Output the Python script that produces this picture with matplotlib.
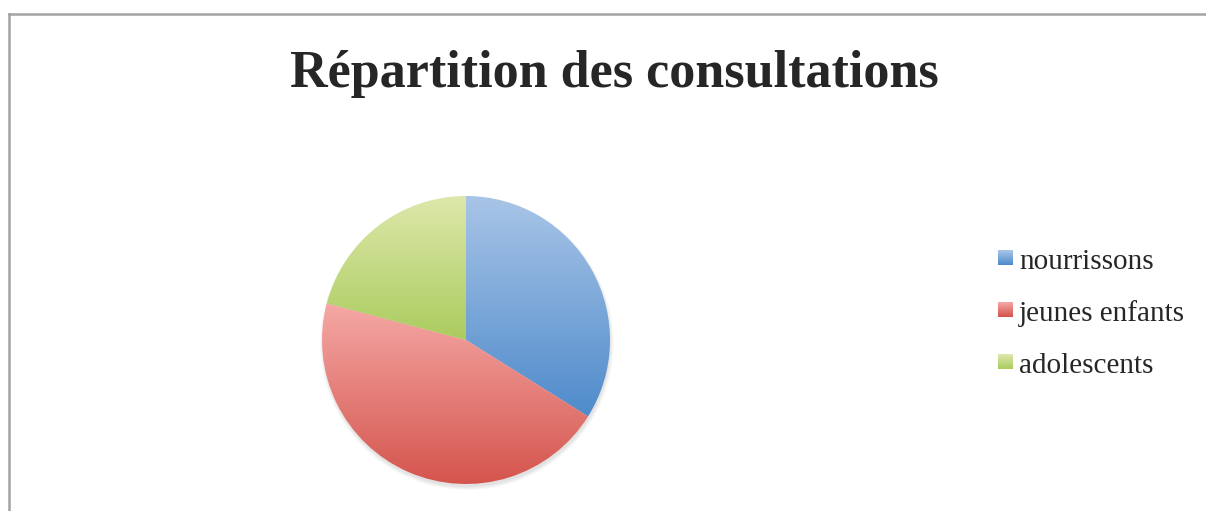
import numpy as np
import matplotlib
matplotlib.use("Agg")
import matplotlib.pyplot as plt
from matplotlib.colors import LinearSegmentedColormap
from matplotlib.patches import Circle
from matplotlib.lines import Line2D

title = "Répartition des consultations"
categories = ["nourrissons", "jeunes enfants", "adolescents"]
values = [33.9, 45.2, 20.9]
top_colors = ["#A9C5E7", "#F5A8A5", "#DDE8AB"]
bottom_colors = ["#4F8BCB", "#D4534C", "#ABCC5F"]

W, H = 1206, 511
fig = plt.figure(figsize=(W / 100, H / 100), dpi=100)
fig.patch.set_facecolor("white")

# frame (only top and left visible)
fig.add_artist(Line2D([9 / W, 9 / W], [0, 1 - 14 / H], color="#A3A3A6", lw=1.8,
                      transform=fig.transFigure))
fig.add_artist(Line2D([9 / W, 1], [1 - 14 / H, 1 - 14 / H], color="#A3A3A6", lw=1.8,
                      transform=fig.transFigure))

fig.text(614 / W, 1 - 74 / H, title, ha="center", va="center",
         fontsize=37.5, fontweight="bold", family="Liberation Serif", color="#262626")

cx, cy, r = 466, 340, 144
ax = fig.add_axes([(cx - r) / W, (H - cy - r) / H, 2 * r / W, 2 * r / H])
ax.set_xlim(-1, 1)
ax.set_ylim(-1, 1)
ax.set_aspect("equal")
ax.axis("off")

# soft shadow
for i in range(6):
    ax.add_patch(Circle((0.006, -0.022), 0.995 + i * 0.005, color="#808080",
                        alpha=0.04, lw=0, zorder=0, clip_on=False))

wedges, _ = ax.pie(values, startangle=90, counterclock=False, radius=1,
                   wedgeprops=dict(linewidth=0))
for w, ctop, cbot in zip(wedges, top_colors, bottom_colors):
    v = w.get_path().vertices
    x0, x1 = v[:, 0].min(), v[:, 0].max()
    y0, y1 = v[:, 1].min(), v[:, 1].max()
    cmap = LinearSegmentedColormap.from_list("g", [cbot, ctop])
    grad = np.linspace(0, 1, 256)[:, None]
    im = ax.imshow(grad, extent=[x0, x1, y0, y1], origin="lower", cmap=cmap,
                   aspect="auto", zorder=2, interpolation="bilinear")
    w.set_facecolor("none")
    w.set_zorder(3)
    im.set_clip_path(w)
ax.set_xlim(-1, 1)
ax.set_ylim(-1, 1)

# legend
leg_y = [261, 313, 365]
for name, yy, ctop, cbot in zip(categories, leg_y, top_colors, bottom_colors):
    lax = fig.add_axes([998 / W, (H - yy - 4) / H, 15 / W, 15 / H])
    lax.imshow(np.linspace(0, 1, 32)[:, None], origin="lower", aspect="auto",
               cmap=LinearSegmentedColormap.from_list("g", [cbot, ctop]),
               extent=[0, 1, 0, 1])
    lax.axis("off")
    fig.text(1019 / W, 1 - (yy + 1) / H, name, ha="left", va="center",
             fontsize=21, family="Liberation Serif", color="#262626")

fig.savefig("out.png", dpi=100, facecolor="white")
